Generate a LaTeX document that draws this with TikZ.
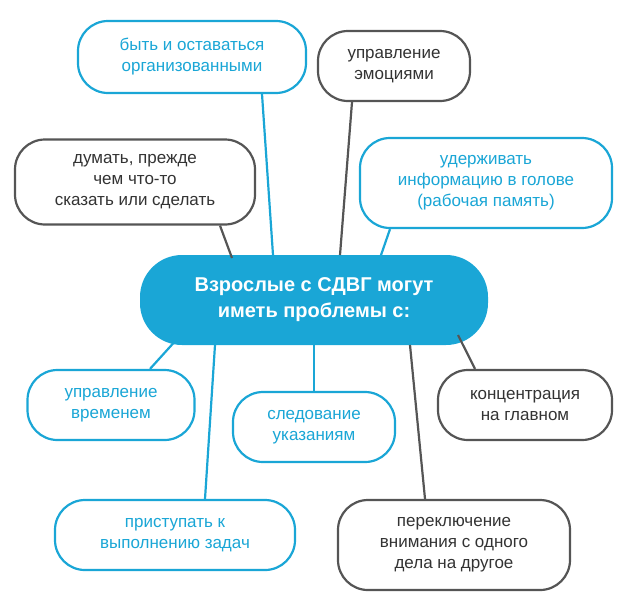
\documentclass[tikz,border=0pt]{standalone}
\usepackage{fontspec}
\setmainfont{Liberation Sans}
\begin{document}
\begin{tikzpicture}[x=1pt,y=-1pt,
  cy/.style={draw=cyanc,line width=2.2pt,rounded corners=30pt,fill=white,text=cyanc,align=center,font=\fontsize{17}{21}\selectfont,inner sep=0pt},
  gy/.style={draw=grayc,line width=2.2pt,rounded corners=30pt,fill=white,text=darkc,align=center,font=\fontsize{17}{21}\selectfont,inner sep=0pt},
  ln/.style={line width=2.2pt}]
\definecolor{cyanc}{HTML}{1AA6D6}
\definecolor{grayc}{HTML}{555555}
\definecolor{darkc}{HTML}{333333}
\useasboundingbox (0,0) rectangle (636,600);
\node[fill=cyanc,rounded corners=42pt,text=white,align=center,font=\bfseries\fontsize{20}{26}\selectfont,minimum width=348pt,minimum height=90pt,inner sep=0pt] (c) at (314,300) {Взрослые с СДВГ могут\\иметь проблемы с:};
\node[cy,minimum width=228pt,minimum height=72pt] (a) at (192,57) {быть и оставаться\\организованными};
\node[gy,minimum width=152pt,minimum height=70pt] (b) at (394,66) {управление\\эмоциями};
\node[gy,minimum width=240pt,minimum height=85pt] (d) at (135,182) {думать, прежде\\чем что-то\\сказать или сделать};
\node[cy,minimum width=252pt,minimum height=90pt] (e) at (486,183) {удерживать\\информацию в голове\\(рабочая память)};
\node[cy,minimum width=167pt,minimum height=70pt] (f) at (111,405) {управление\\временем};
\node[cy,minimum width=162pt,minimum height=70pt] (g) at (314,427) {следование\\указаниям};
\node[gy,minimum width=174pt,minimum height=70pt] (h) at (525,405) {концентрация\\на главном};
\node[cy,minimum width=240pt,minimum height=70pt] (i) at (175,535) {приступать к\\выполнению задач};
\node[gy,minimum width=232pt,minimum height=90pt] (j) at (454,545) {переключение\\внимания с одного\\дела на другое};
\draw[ln,cyanc] (273,255) -- (a.south -| 262,0);
\draw[ln,grayc] (340,255) -- (b.south -| 352,0);
\draw[ln,grayc] (232,258) -- (d.south -| 220,0);
\draw[ln,cyanc] (380,258) -- (e.south -| 390,0);
\draw[ln,cyanc] (178,338) -- (f.north -| 150,0);
\draw[ln,cyanc] (215,345) -- (i.north -| 205,0);
\draw[ln,cyanc] (c.south) -- (g.north);
\draw[ln,grayc] (458,335) -- (h.north -| 475,0);
\draw[ln,grayc] (410,345) -- (j.north -| 425,0);
\end{tikzpicture}
\end{document}
